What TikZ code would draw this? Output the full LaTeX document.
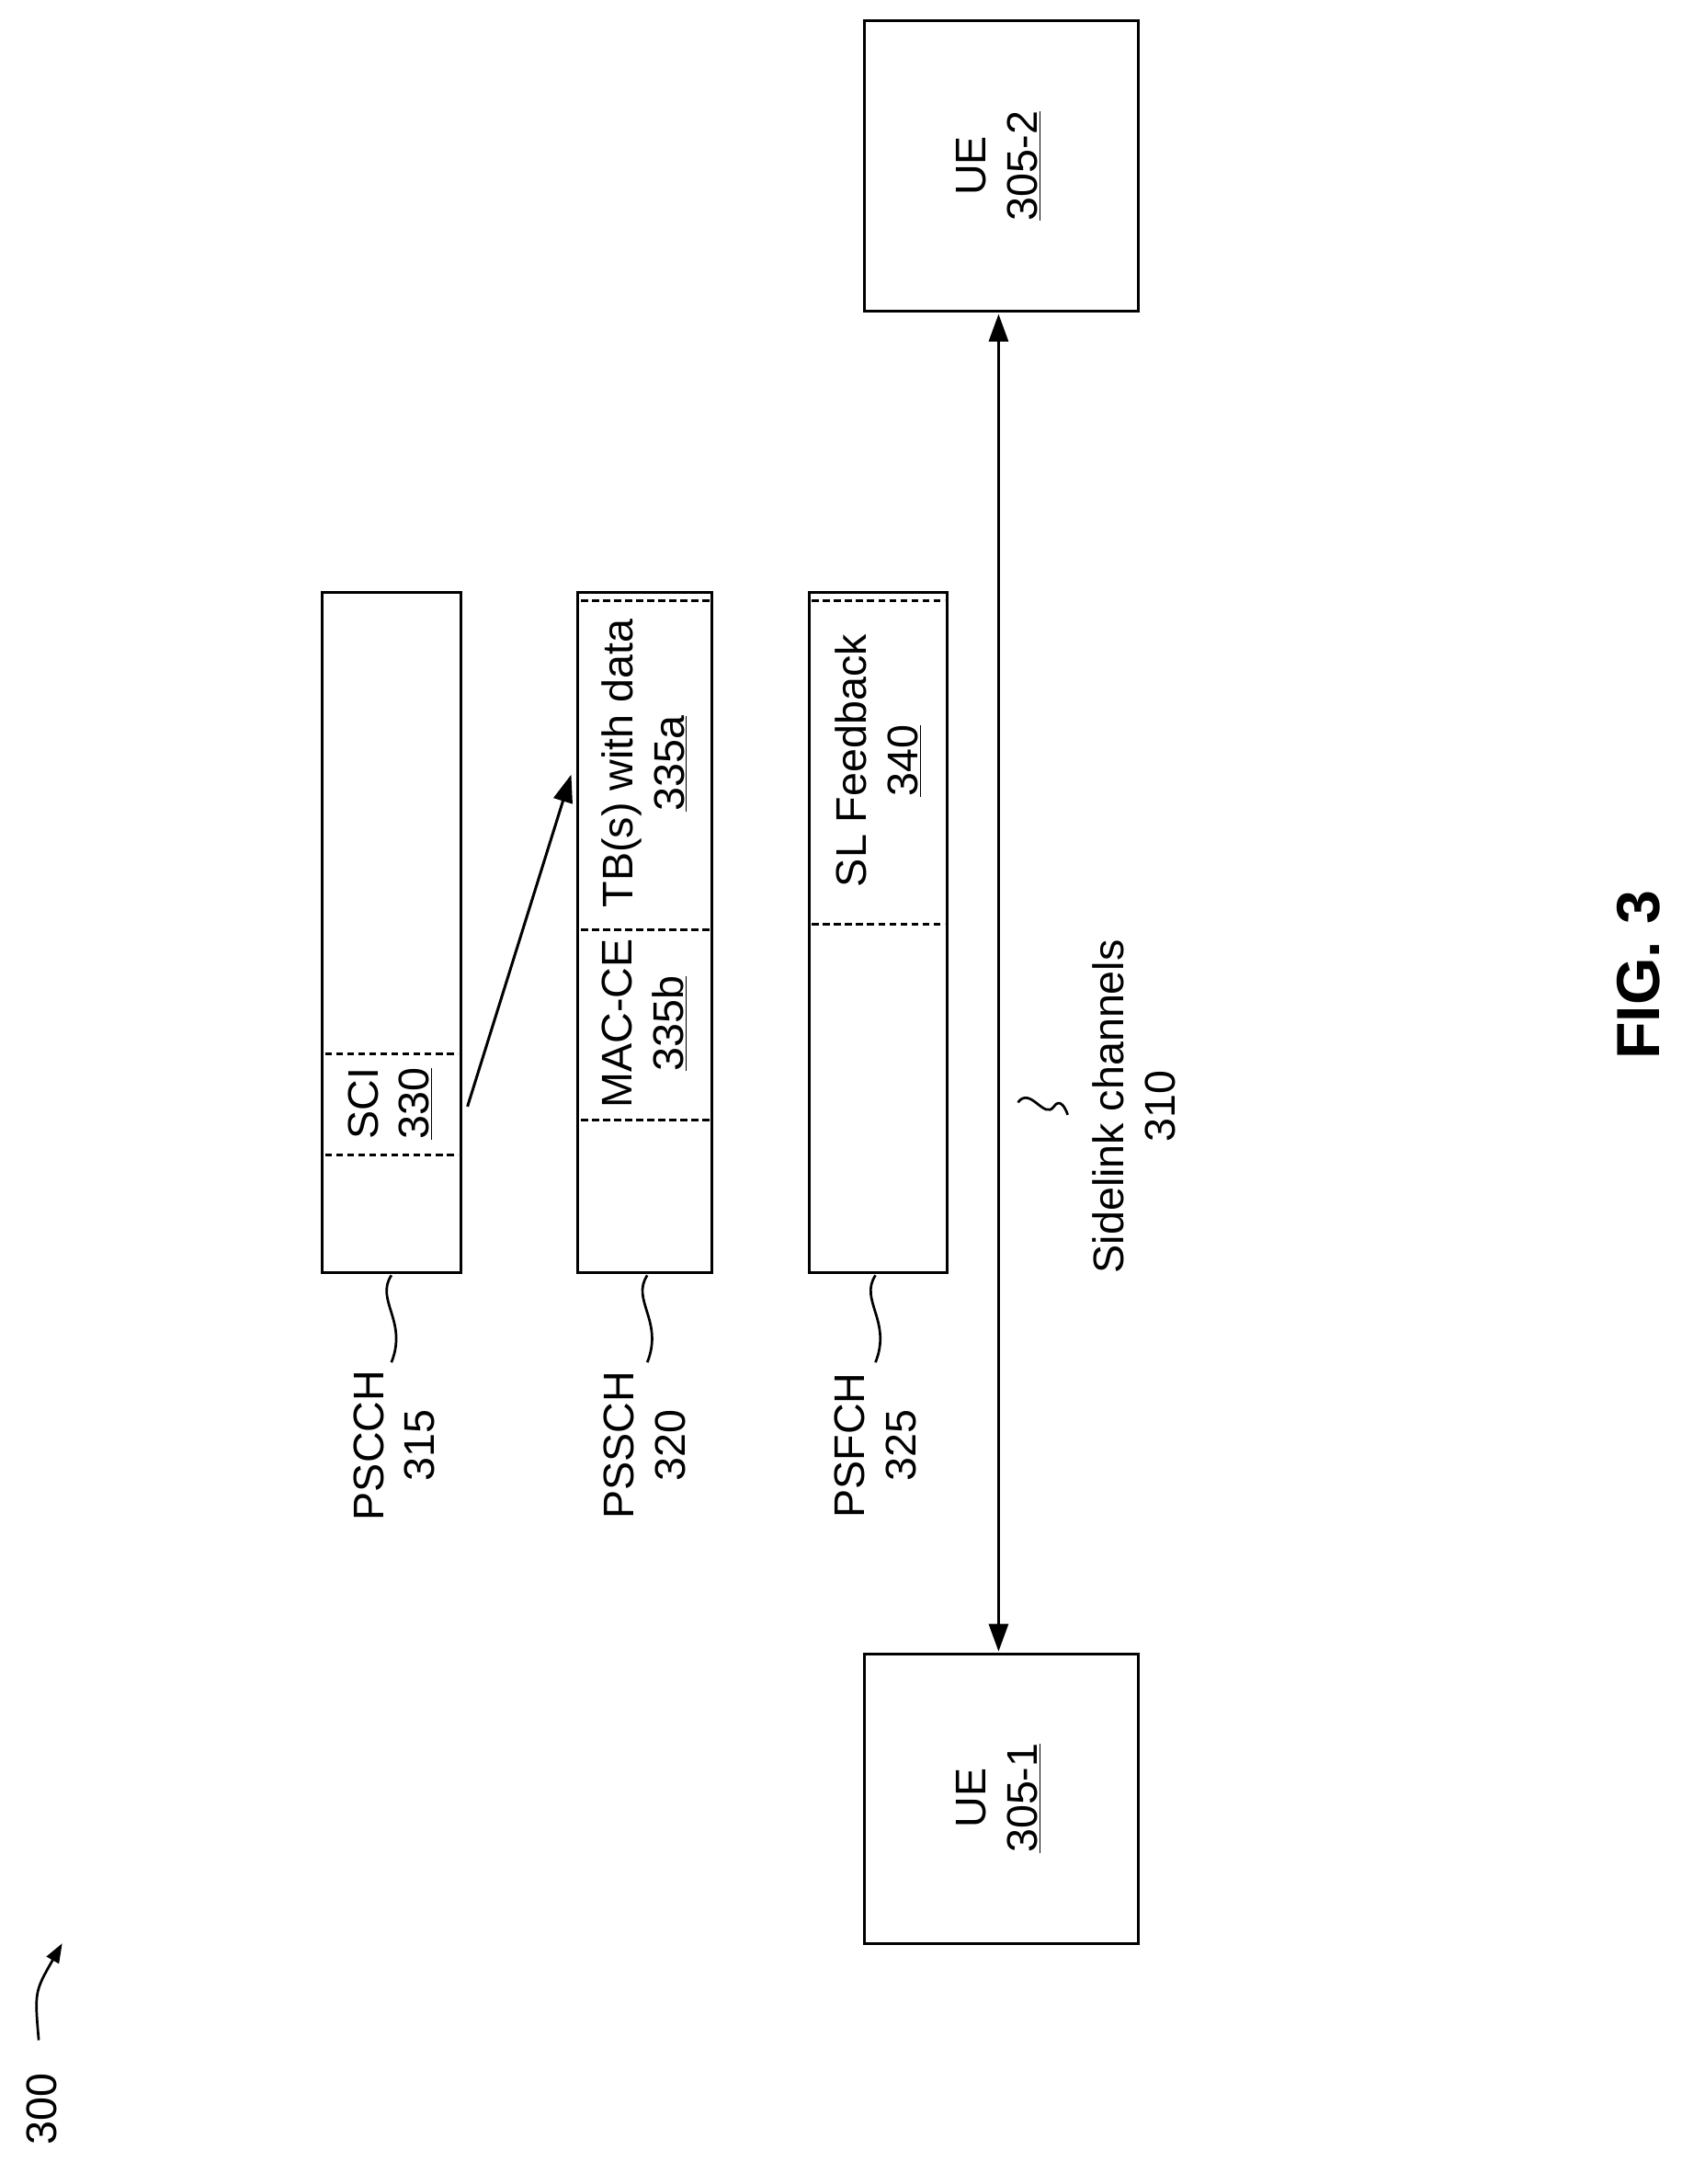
\documentclass[tikz,border=0pt]{standalone}
\usepackage{fontspec}
\setmainfont{Liberation Sans}
\usetikzlibrary{arrows.meta}
\begin{document}
\begin{tikzpicture}[x=1pt,y=-1pt,
 box/.style={draw,line width=2pt},
 dl/.style={line width=2pt,dash pattern=on 5pt off 3pt},
 lab/.style={rotate=90,align=center,font=\fontsize{31}{37}\selectfont,inner sep=0},
 sq/.style={line width=1.8pt}]
\useasboundingbox (0,0) rectangle (1216,1579);
\draw[box] (625,15) rectangle (823,225);
\node[lab] (ue2) at (722,120) {UE\\\underline{305-2}};
\draw[box] (625,1196) rectangle (823,1405);
\node[lab] (ue1) at (722,1300) {UE\\\underline{305-1}};
\coordinate (a1) at (722,227); \coordinate (a2) at (722,1194);
\draw[line width=2pt,{Triangle[length=20pt,width=14pt]}-{Triangle[length=20pt,width=14pt]}] (a1) -- (a2);
\draw[sq] (736,797) .. controls (745,785) and (755,810) .. (762,800) .. controls (766,794) and (770,800) .. (772,806);
\node[lab] (slc) at (820,800) {Sidelink channels\\310};
% PSCCH
\draw[box] (233,428) rectangle (333,920);
\draw[dl] (235,762) -- (331,762); \draw[dl] (235,835) -- (331,835);
\node[lab] (sci) at (282,798) {SCI\\\underline{330}};
% PSSCH
\draw[box] (418,428) rectangle (515,920);
\draw[dl] (420,434) -- (513,434); \draw[dl] (420,672) -- (513,672); \draw[dl] (420,810) -- (513,810);
\node[lab] (mac) at (466,740) {MAC-CE\\\underline{335b}};
\node[lab] (tb) at (466,552) {TB(s) with data\\\underline{335a}};
% PSFCH
\draw[box] (585,428) rectangle (685,920);
\draw[dl] (587,434) -- (683,434); \draw[dl] (587,668) -- (683,668);
\node[lab] (slf) at (635,550) {SL Feedback\\\underline{340}};
\coordinate (s1) at (338,800); \coordinate (s2) at (413,560);
\draw[line width=2pt,-{Triangle[length=20pt,width=14pt]}] (s1) -- (s2);
% squiggles
\foreach \x in {283,468,633}{
 \draw[sq] (\x,922) .. controls (\x-12,940) and (\x+12,955) .. (\x,985);}
\node[lab] (p1) at (285,1045) {PSCCH\\315};
\node[lab] (p2) at (466,1045) {PSSCH\\320};
\node[lab] (p3) at (633,1045) {PSFCH\\325};
\node[rotate=90,font=\fontsize{44}{50}\selectfont\bfseries] (fig) at (1185,705) {FIG. 3};
\node[lab] (n300) at (30,1525) {300};
\coordinate (c1) at (28,1475); \coordinate (c2) at (45,1405);
\draw[line width=1.8pt,-{Triangle[length=14pt,width=10pt]}] (c1) .. controls (25,1440) .. (c2);
\end{tikzpicture}
\end{document}
